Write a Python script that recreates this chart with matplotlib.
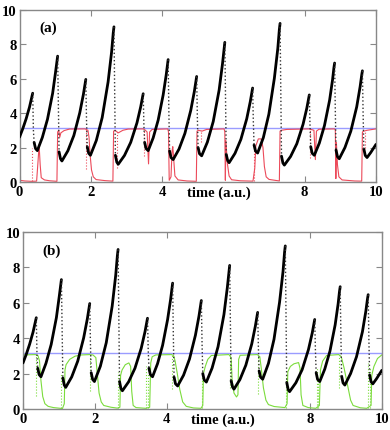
import numpy as np
import matplotlib
matplotlib.use("Agg")
import matplotlib.pyplot as plt

# black trace (same in both panels)
black_t = [0.00, 0.09, 0.185, 0.28, 0.335, 0.37,
           0.39, 0.41, 0.45, 0.50, 0.64, 0.785, 0.93, 1.01, 1.05, 1.07,
           1.09, 1.11, 1.15, 1.19, 1.357, 1.525, 1.69, 1.793, 1.84, 1.86,
           1.88, 1.90, 1.94, 1.99, 2.155, 2.32, 2.485, 2.584, 2.63, 2.65,
           2.67, 2.69, 2.73, 2.77, 2.945, 3.12, 3.295, 3.40, 3.45, 3.47,
           3.49, 3.51, 3.55, 3.61, 3.75, 3.89, 4.03, 4.114, 4.15, 4.17,
           4.19, 4.21, 4.25, 4.31, 4.475, 4.64, 4.805, 4.904, 4.95, 4.97,
           4.99, 5.01, 5.05, 5.11, 5.27, 5.435, 5.60, 5.695, 5.74, 5.76,
           5.78, 5.80, 5.84, 5.88, 6.045, 6.21, 6.375, 6.474, 6.52, 6.54,
           6.56, 6.58, 6.62, 6.68, 6.84, 6.995, 7.15, 7.247, 7.29, 7.31,
           7.33, 7.35, 7.39, 7.43, 7.605, 7.78, 7.955, 8.06, 8.11, 8.13,
           8.15, 8.17, 8.21, 8.27, 8.41, 8.555, 8.70, 8.783, 8.82, 8.84,
           8.86, 8.88, 8.92, 8.97, 9.13, 9.295, 9.46, 9.555, 9.60, 9.62,
           9.64, 9.66, 9.70, 9.75, 9.85, 9.93, 10.0]
black_y = [2.60, 3.08, 3.66, 4.34, 4.82, 5.15,
           3.00, 2.30, 1.94, 1.82, 2.58, 3.64, 5.15, 6.35, 7.00, 7.30,
           4.30, 1.75, 1.35, 1.22, 1.81, 2.70, 4.01, 5.09, 5.70, 5.95,
           3.60, 2.05, 1.67, 1.55, 2.41, 3.74, 5.80, 7.55, 8.65, 9.00,
           5.00, 1.55, 1.15, 1.03, 1.54, 2.30, 3.43, 4.36, 4.92, 5.12,
           3.30, 2.30, 1.94, 1.82, 2.56, 3.59, 5.05, 6.19, 6.80, 7.10,
           4.10, 1.80, 1.42, 1.30, 1.91, 2.82, 4.16, 5.24, 5.88, 6.12,
           3.70, 2.00, 1.64, 1.52, 2.31, 3.51, 5.33, 6.86, 7.75, 8.10,
           4.60, 1.60, 1.24, 1.12, 1.66, 2.47, 3.67, 4.66, 5.22, 5.45,
           3.50, 2.15, 1.80, 1.68, 2.57, 3.93, 6.02, 7.76, 8.85, 9.20,
           5.10, 1.50, 1.10, 0.98, 1.48, 2.22, 3.35, 4.28, 4.85, 5.05,
           3.30, 2.05, 1.67, 1.55, 2.25, 3.27, 4.75, 5.94, 6.62, 6.90,
           4.10, 1.85, 1.47, 1.35, 2.00, 2.95, 4.36, 5.52, 6.20, 6.45,
           3.90, 1.92, 1.54, 1.42, 1.70, 1.95, 2.18]

pi_level = 3.14

# red trace, panel (a)
red_t = [0.00, 0.15, 0.33, 0.48, 0.52, 0.55, 0.58, 0.61, 0.70, 0.85, 1.05,
         1.07, 1.10, 1.13, 1.16, 1.25, 1.40, 1.84, 1.92, 1.95, 1.98, 2.02,
         2.07, 2.15, 2.40, 2.62, 2.64, 2.68, 2.77, 2.90, 3.05, 3.47, 3.52,
         3.58, 3.62, 3.65, 3.72, 4.16, 4.18, 4.20, 4.25, 4.28, 4.30, 4.32,
         4.36, 4.45, 4.70, 4.96, 4.98, 5.02, 5.12, 5.25, 5.74, 5.76, 5.775,
         5.79, 5.83, 5.88, 5.95, 6.20, 6.55, 6.60, 6.63, 6.70, 6.78, 6.83,
         6.87, 6.92, 7.00, 7.29, 7.31, 7.35, 7.50, 8.13, 8.26, 8.30, 8.33,
         8.40, 8.84, 8.86, 8.875, 8.89, 8.92, 8.96, 9.05, 9.40, 9.60, 9.62,
         9.66, 9.75, 10.0]
red_y = [0.10, 0.06, 0.04, 0.05, 1.20, 2.15, 1.00, 0.25, 0.12, 0.07, 0.04,
         2.90, 3.00, 2.60, 2.85, 2.98, 3.07, 3.08, 3.00, 2.60, 1.60, 0.70,
         0.30, 0.14, 0.08, 0.05, 2.95, 3.00, 2.85, 3.00, 3.07, 3.08, 3.02,
         2.90, 1.05, 2.90, 3.05, 3.08, 2.90, 0.10, 0.30, 1.80, 2.05, 1.50,
         0.35, 0.12, 0.06, 0.04, 2.95, 3.00, 2.95, 3.05, 3.08, 2.90, 0.10,
         2.40, 1.10, 0.35, 0.13, 0.07, 0.05, 0.80, 2.10, 2.50, 2.50, 2.00,
         0.90, 0.30, 0.15, 0.06, 2.95, 3.00, 3.05, 3.08, 3.00, 1.30, 2.95,
         3.06, 3.08, 3.00, 0.20, 2.30, 1.00, 0.30, 0.12, 0.06, 0.05, 2.90,
         2.95, 3.00, 3.08]
red_spike_t = [0.35, 1.86, 2.74, 3.49, 5.08, 6.57, 8.16, 9.68]
red_spike_lo = [0.04, 0.74, 0.80, 1.50, 2.30, 0.05, 1.40, 2.00]
red_spike_hi = [1.95, 3.08, 2.90, 3.08, 3.00, 2.00, 3.08, 2.95]

# green trace, panel (b)
green_t = [0.00, 0.35, 0.42, 0.46, 0.50, 0.55, 0.61, 0.70, 0.85, 1.04, 1.10,
           1.15, 1.17, 1.20, 1.30, 1.45, 1.63, 1.86, 1.95, 2.03, 2.07, 2.12,
           2.18, 2.25, 2.45, 2.63, 2.70, 2.72, 2.76, 2.85, 2.95, 3.00, 3.03,
           3.07, 3.15, 3.42, 3.53, 3.56, 3.60, 3.70, 4.14, 4.20, 4.24, 4.30,
           4.37, 4.45, 4.55, 4.75, 4.96, 5.01, 5.03, 5.08, 5.15, 5.25, 5.74,
           5.80, 5.83, 5.88, 5.95, 5.99, 6.01, 6.05, 6.53, 6.60, 6.64, 6.70,
           6.77, 6.84, 7.00, 7.30, 7.36, 7.38, 7.45, 7.55, 7.68, 7.72, 7.75,
           7.80, 7.95, 8.16, 8.26, 8.29, 8.35, 8.46, 8.80, 8.87, 8.95, 9.05,
           9.13, 9.20, 9.40, 9.58, 9.70, 9.72, 9.78, 9.88, 10.0]
green_y = [3.05, 3.07, 3.00, 2.70, 1.60, 0.70, 0.30, 0.15, 0.08, 0.04, 0.03,
           0.30, 2.20, 2.50, 2.80, 2.98, 3.05, 3.07, 3.05, 2.90, 2.00, 0.90,
           0.40, 0.20, 0.10, 0.05, 0.10, 1.90, 2.20, 2.50, 2.60, 2.40, 1.00,
           0.20, 0.08, 0.04, 0.10, 2.60, 2.95, 3.05, 3.07, 3.00, 2.70, 2.00,
           1.10, 0.40, 0.15, 0.06, 0.04, 0.20, 2.00, 2.40, 2.80, 3.02, 3.07,
           2.90, 1.60, 0.90, 0.68, 0.80, 2.80, 3.03, 3.07, 2.95, 2.30, 1.20,
           0.50, 0.25, 0.14, 0.08, 0.30, 2.10, 2.40, 2.55, 2.62, 2.30, 0.80,
           0.20, 0.08, 0.04, 0.20, 2.20, 2.70, 3.02, 3.07, 2.95, 2.30, 1.30,
           0.50, 0.20, 0.07, 0.04, 0.20, 1.90, 2.40, 2.85, 3.05]
green_spike_t = [0.37, 1.06, 1.87, 2.65, 3.44, 3.49, 4.16, 4.98, 5.77, 6.55,
                 7.33, 8.18, 8.23, 8.81, 9.61, 9.66]
green_spike_lo = [0.75, 0.04, 1.00, 0.05, 0.04, 0.04, 1.13, 0.04, 1.20, 0.85,
                  0.08, 0.04, 0.04, 1.20, 0.04, 0.04]
green_spike_hi = [3.07, 1.97, 3.07, 2.10, 2.44, 2.00, 3.07, 2.00, 3.07, 3.07,
                  2.00, 2.30, 1.60, 3.07, 2.60, 2.30]

x_ticks = [0, 2, 4, 8, 10]
y_ticks = [0, 2, 4, 6, 8, 10]

plt.rcParams["font.family"] = ["Liberation Serif", "DejaVu Serif"]
plt.rcParams["font.weight"] = "bold"


def split_line(t, y, keep):
    # break the line with NaN wherever a segment is not kept
    xs, ys = [t[0]], [y[0]]
    for i in range(len(t) - 1):
        if not keep[i]:
            xs.append(np.nan)
            ys.append(np.nan)
        xs.append(t[i + 1])
        ys.append(y[i + 1])
    return xs, ys


def draw_panel(ax, ct, cy, st, slo, shi, color, label):
    ax.axhline(pi_level, color="#9a9cff", lw=1.0, zorder=1)
    ax.plot(ct, cy, color=color, lw=0.8, zorder=2)
    ax.vlines(st, slo, shi, colors=color, linestyles=":", lw=0.8, zorder=2)

    bt = np.array(black_t)
    by = np.array(black_y)
    fast = np.diff(by) / np.diff(bt) < -25
    xs, ys = split_line(bt, by, ~fast)
    ax.plot(xs, ys, color="black", lw=2.0, solid_capstyle="round", zorder=3)
    xs, ys = split_line(bt, by, fast)
    ax.plot(xs, ys, color="#333333", lw=1.0, ls=":", zorder=3)

    ax.set_xlim(0, 10)
    ax.set_ylim(0, 10)
    ax.set_xticks(x_ticks)
    ax.set_yticks(y_ticks)
    ax.tick_params(direction="in", length=4, width=0.8, color="#888888",
                   top=True, right=True, labelsize=10.5, pad=2)
    for s in ax.spines.values():
        s.set_color("#888888")
        s.set_linewidth(1.0)
    ax.text(5.58, -0.2, "time (a.u.)", ha="center", va="top",
            fontsize=10.5, fontweight="bold", clip_on=False)
    ax.text(0.55, 8.95, label, ha="left", va="center",
            fontsize=11, fontweight="bold")


fig = plt.figure(figsize=(3.9, 4.31), dpi=100)
ax1 = fig.add_axes([0.050, 0.5754, 0.914, 0.400])
ax2 = fig.add_axes([0.059, 0.0487, 0.920, 0.4113])

draw_panel(ax1, red_t, red_y, red_spike_t, red_spike_lo, red_spike_hi,
           "#ec4a5a", "(a)")
draw_panel(ax2, green_t, green_y, green_spike_t, green_spike_lo,
           green_spike_hi, "#7bdc3c", "(b)")

fig.savefig("out.png", dpi=100)
